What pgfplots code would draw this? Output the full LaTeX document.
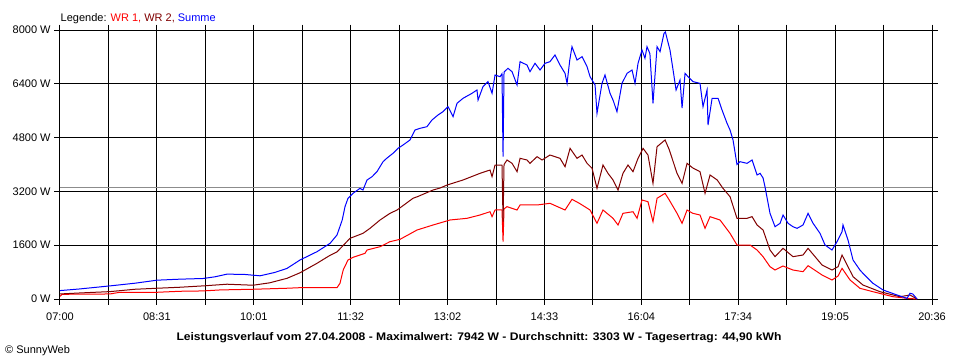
\documentclass[border=0pt]{standalone}
\usepackage{graphicx}
\usepackage{pgfplots}
\pgfplotsset{compat=1.18}
\usepackage{fontspec}
\setmainfont{Liberation Sans}
\definecolor{wrone}{RGB}{255,0,0}
\definecolor{wrtwo}{RGB}{128,0,0}
\definecolor{summe}{RGB}{0,0,255}
\definecolor{avg}{RGB}{140,140,140}
\newcommand\f{\fontsize{11pt}{13pt}\selectfont}
\pgfplotstableread{
t p
0 250
18.7 300
46.8 390
70.2 470
90.8 560
112.3 590
133.8 610
145 660
156.3 740
173 730
187.2 690
201 790
212.4 910
224.6 1160
240.5 1407
252.7 1656
259.2 1903
264.1 2350
266.7 2746
269.5 2995
274.2 3143
280.7 3291
283.5 3241
287.3 3539
292.0 3638
296.6 3786
302.3 4084
305.7 4184
311.6 4333
316.3 4481
321.0 4580
327.5 4729
332.2 5026
336.9 5076
343.4 5125
348.1 5324
353.7 5472
358.4 5571
363.1 5720
367.8 5422
371.5 5819
377.1 5968
385.5 6117
390.2 6216
391.2 5918
395.8 6315
400.5 6464
404.3 6117
407.1 6662
411.8 6612
413.6 6700
414.6 4233
415.5 6750
419.2 6860
423.0 6761
427.7 6365
430.5 7058
437.0 6959
439.8 6761
444.5 7009
449.2 6810
453.9 7009
458.5 7058
463.2 7257
467.9 6959
472.6 6711
474.5 6414
477 7100
479.1 7504
483.8 7108
488.5 7207
493.2 6909
496.0 6612
500.7 6365
502.5 5522
507.2 6414
510.0 6662
514.7 6117
517.5 5918
521.2 5571
525.9 6414
530.6 6711
535.3 6810
538.1 6414
540.9 7009
544.6 7405
547.4 7158
549.3 7504
552 7300
554.9 5819
558.7 7504
561.5 7356
565.2 7900
566.5 7942
568.0 7752
570.8 7405
573.7 6810
576.5 6216
580.2 6513
582.1 5680
584.9 6711
587.7 6612
592.4 6464
598.9 6414
601.7 5720
605.5 6216
606.4 5175
610.2 5968
615.8 5968
619.5 5621
624.2 5225
627.0 5026
629.8 4729
633.5 4000
636.3 4084
642.9 4035
647.6 4134
652.3 3688
655.1 3737
657.9 3600
659.7 3340
664.4 2548
669.1 2150
673.8 2251
676.6 2498
681.3 2251
685.9 2150
689.7 2102
695.3 2201
700.0 2548
704.7 2251
711.2 1953
715.9 1606
722.4 1457
727.1 1705
731.8 2000
732.7 2201
737.4 1755
742.1 1160
748.6 860
751.4 763
760.8 466
770.2 268
783.3 119
792.6 20
795.4 170
798 150
802.0 0
}\summetab
\pgfplotstableread{
t p
0 150
18.7 180
46.8 220
70.2 290
90.8 320
112.3 350
133.8 390
156.3 440
180.6 410
196 480
212.4 615
224.6 780
240.5 1062
252.7 1300
259.2 1400
271.4 1805
283.5 1953
290.1 2102
299.5 2350
308.8 2548
315.4 2647
322 2800
330.3 2995
335 3050
346 3200
349.1 3241
355.6 3300
362.2 3390
377.1 3539
393.0 3737
402.4 3836
404.3 3638
407.1 3985
413.6 3985
414.6 2300
415.5 4000
418.3 4134
423.0 4035
427.7 3786
430.5 4184
437.0 4134
439.8 4035
446.4 4233
451.1 4134
458.5 4282
467.9 4184
472.6 3935
477.3 4481
483.8 4184
488.5 4282
493.2 4035
497.9 3886
502.5 3291
508.1 3985
512.8 3737
517.5 3539
522.2 3241
526.8 3737
531.5 3985
536.2 3786
540.9 4184
545.6 4481
550.2 4282
554.9 3440
558.7 4530
566.2 4729
570 4450
577.4 3737
582.1 3440
586.8 4035
592 3900
598.9 3786
603.6 3143
608.3 3688
615 3539
620.4 3291
627.0 3043
633.5 2400
642.9 2400
647.6 2449
652.3 2201
657.9 2052
664.4 1457
669.1 1259
676.6 1507
685.9 1259
695.3 1309
700.0 1507
713.1 1011
722.4 862
728.1 961
731.8 1309
737.4 961
742.1 664
751.4 416
767.4 217
786.1 69
795.4 119
802.0 0
}\wrtwotab
\pgfplotstableread{
t p
0 80
2 140
46.8 150
56 200
90.8 200
112.3 230
133.8 240
150 270
180.6 290
212.4 320
224.6 337
259.2 337
262.0 466
265.0 862
269.5 1160
274.2 1239
280.7 1309
285.4 1358
287.3 1457
299.5 1556
308.8 1705
318.2 1775
334.1 2052
349.1 2201
365.0 2350
380.9 2400
393.0 2498
402.4 2596
404.3 2449
407.1 2647
413.6 2650
414.6 1705
415.5 2680
418.3 2746
427.7 2647
430.5 2796
446.4 2796
458.5 2846
472.6 2647
479.1 2965
486 2846
496.0 2647
502.5 2251
508.1 2647
517.5 2400
522.2 2201
526.8 2548
536.2 2596
540.0 2400
544.6 2944
550.2 2894
554.9 2300
558.7 2995
566.2 3143
570 2950
577.4 2548
582.1 2251
586.8 2647
592 2550
598.9 2498
603.6 2102
608.3 2449
617.6 2350
627.0 1953
633.5 1606
645.7 1606
652.3 1457
657.9 1259
664.4 961
669.1 862
676.6 981
685.9 862
695.3 812
700.0 991
713.1 714
722.4 565
728.1 684
731.8 912
739.3 565
748.6 318
760.8 217
779.5 69
792.6 20
802.0 0
}\wronetab
\begin{document}
\f
\begin{tikzpicture}
\useasboundingbox (-60pt,-61pt) rectangle (900pt,299pt);
\begin{axis}[
  scale only axis, width=872pt, height=269pt,
  at={(0pt,0pt)}, anchor=south west,
  xmin=0, xmax=816, ymin=0, ymax=8000,
  axis line style={black, line width=1pt},
  xtick={0,90.667,181.333,272,362.667,453.333,544,634.667,725.333,816},
  xticklabels={07:00,08:31,10:01,11:32,13:02,14:33,16:04,17:34,19:05,20:36},
  minor xtick={45.333,136,226.667,317.333,408,498.667,589.333,680,770.667},
  ytick={0,1600,3200,4800,6400,8000},
  yticklabels={0 W,1600 W,3200 W,4800 W,6400 W,8000 W},
  grid=both,
  major grid style={black, line width=1pt},
  minor grid style={black, line width=1pt},
  tick align=outside,
  major tick length=5.5pt, minor tick length=5.5pt,
  tick style={black, line width=1pt},
  tick label style={font=\f},
  xticklabel style={yshift=-4pt},
  every axis plot/.append style={line width=1pt, sharp plot, mark=none},
]
\addplot[avg] coordinates {(0,3303) (816,3303)};
\addplot[wrone] table[x=t,y=p] {\wronetab};
\addplot[wrtwo] table[x=t,y=p] {\wrtwotab};
\addplot[summe] table[x=t,y=p] {\summetab};
\end{axis}
\node[anchor=base west, inner sep=0pt, font=\f] at (0.5pt,278pt) {Legende: \textcolor{wrone}{WR 1,} \textcolor{wrtwo}{WR 2,} \textcolor{summe}{Summe}};
\node[anchor=base, inner sep=0pt, font=\f\bfseries] at (419pt,-41pt) {\scalebox{1.1}[1]{Leistungsverlauf vom 27.04.2008 - Maximalwert: 7942 W - Durchschnitt: 3303 W - Tagesertrag: 44,90 kWh}};
\node[anchor=base west, inner sep=0pt, font=\f] at (-55pt,-54pt) {© SunnyWeb};
\end{tikzpicture}
\end{document}
